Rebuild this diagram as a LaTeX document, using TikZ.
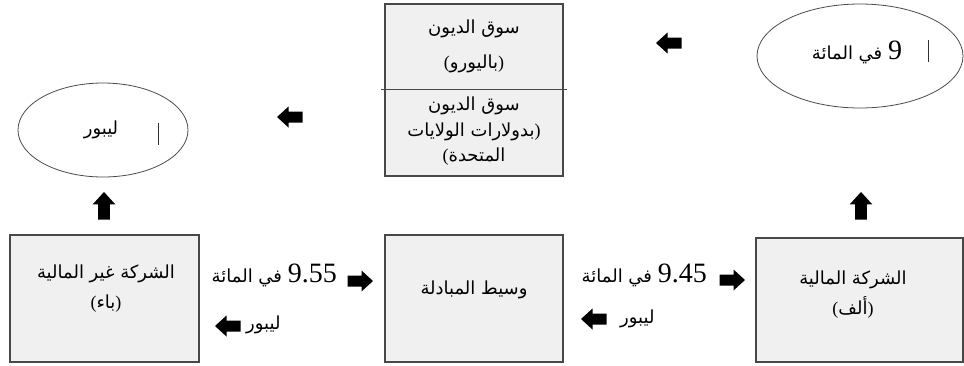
\documentclass[tikz,border=0pt]{standalone}
\usepackage{fontspec}
\setmainfont{Liberation Serif}
\newfontfamily\arabicfont[Script=Arabic]{DejaVu Sans}
\newfontfamily\numfont{Liberation Serif}
\TeXXeTstate=1
\usetikzlibrary{shapes.geometric}

\definecolor{boxfill}{HTML}{F0F0F0}
\definecolor{boxline}{HTML}{484848}
\definecolor{ovalline}{HTML}{4A4A4A}

% Arabic line, right to left
\newcommand\arline[1]{{\arabicfont\beginR #1\endR}}
% a rate: number followed by "per cent"
\newcommand\rate[1]{{\arabicfont\beginR\beginL{\numfont\fontsize{28}{28}\selectfont #1}\endL{} في المائة\endR}}

\tikzset{
  x=1pt, y=-1pt,
  panel/.style={draw=boxline, fill=boxfill, line width=1.2pt, inner sep=0pt},
  oval/.style={draw=ovalline, ellipse, line width=0.8pt, inner sep=0pt},
  txt/.style={inner sep=0pt, font=\fontsize{18}{22}\selectfont, align=center},
  caret/.style={draw=black!80, line width=0.8pt},
  fatarrow/.pic={\fill[black] (-12.5,-5.5)--(1.5,-5.5)--(1.5,-10.5)--(13,0)--(1.5,10.5)--(1.5,5.5)--(-12.5,5.5)--cycle;}
}

\begin{document}
\begin{tikzpicture}
  \useasboundingbox (0,0) rectangle (964,365);

  % ---- boxes ----
  \node[panel, minimum width=189pt, minimum height=127pt] (nonfin) at (104.5,298.5) {};
  \node[panel, minimum width=178pt, minimum height=127pt] (swap)   at (474,298.5) {};
  \node[panel, minimum width=207pt, minimum height=124pt] (fin)    at (859.5,300) {};
  \node[panel, minimum width=178pt, minimum height=172pt] (debt)   at (474,90) {};
  \draw[boxline, line width=0.8pt] (381,89) -- (567,89);

  % ---- ovals ----
  \node[oval, minimum width=170pt, minimum height=94pt] (libor) at (103,130) {};
  \node[oval, minimum width=206pt, minimum height=104pt] (nine) at (860,56) {};
  \draw[caret] (158,123) -- (158,145);
  \draw[caret] (928,40) -- (928,62);

  % ---- texts ----
  \node[txt] (tlibor) at (101,130) {\arline{ليبور}};
  \node[txt] (tnine)  at (857,52)  {\rate{9}};

  \node[txt] (td1) at (474,29)  {\arline{سوق الديون}};
  \node[txt] (td2) at (474,64)  {(\arline{باليورو})};
  \node[txt] (td3) at (474,106) {\arline{سوق الديون}};
  \node[txt] (td4) at (474,132) {\arline{بدولارات الولايات})};
  \node[txt] (td5) at (474,157) {(\arline{المتحدة}};

  \node[txt] (tnf1) at (106,274) {\arline{الشركة غير المالية}};
  \node[txt] (tnf2) at (106,304) {(\arline{باء})};
  \node[txt] (tsw)  at (474,290) {\arline{وسيط المبادلة}};
  \node[txt] (tf1)  at (853,280) {\arline{الشركة المالية}};
  \node[txt] (tf2)  at (853,307) {(\arline{ألف})};

  \node[txt, anchor=east] (r955) at (337,275) {\rate{9.55}};
  \node[txt, anchor=west] (l1)   at (246,325) {\arline{ليبور}};
  \node[txt, anchor=east] (r945) at (707,275) {\rate{9.45}};
  \node[txt, anchor=west] (l2)   at (620,319) {\arline{ليبور}};

  % ---- block arrows ----
  \pic at (360,281) {fatarrow};
  \pic[rotate=180] at (228,326) {fatarrow};
  \pic at (732,280) {fatarrow};
  \pic[rotate=180] at (594,319) {fatarrow};
  \pic[rotate=180] at (290,117) {fatarrow};
  \pic[rotate=180] at (669,43) {fatarrow};
  \pic[rotate=90, scale=1.08] at (104,206) {fatarrow};
  \pic[rotate=90, scale=1.08] at (861,206) {fatarrow};
\end{tikzpicture}
\end{document}
